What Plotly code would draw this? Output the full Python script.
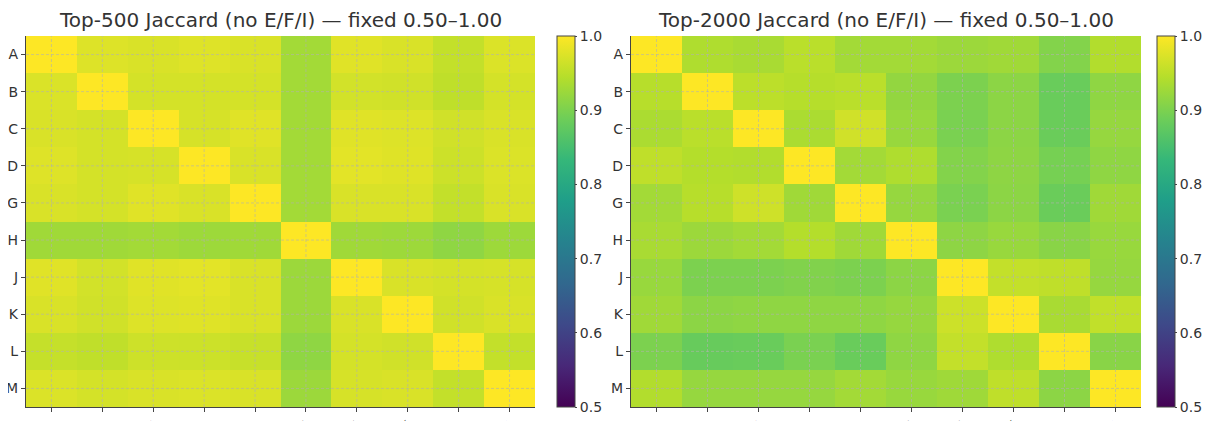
import plotly.graph_objects as go

labels = ["A", "B", "C", "D", "G", "H", "J", "K", "L", "M"]

top500 = [
    [1.000, 0.975, 0.972, 0.976, 0.972, 0.930, 0.978, 0.972, 0.955, 0.974],
    [0.973, 1.000, 0.968, 0.968, 0.968, 0.930, 0.967, 0.965, 0.952, 0.968],
    [0.972, 0.968, 1.000, 0.970, 0.978, 0.930, 0.978, 0.975, 0.965, 0.972],
    [0.976, 0.968, 0.970, 1.000, 0.972, 0.930, 0.980, 0.977, 0.962, 0.974],
    [0.972, 0.968, 0.978, 0.972, 1.000, 0.930, 0.972, 0.972, 0.955, 0.972],
    [0.928, 0.928, 0.930, 0.926, 0.928, 1.000, 0.928, 0.926, 0.915, 0.926],
    [0.978, 0.967, 0.978, 0.980, 0.972, 0.925, 1.000, 0.972, 0.968, 0.970],
    [0.972, 0.965, 0.975, 0.977, 0.972, 0.925, 0.972, 1.000, 0.965, 0.972],
    [0.957, 0.953, 0.963, 0.962, 0.958, 0.915, 0.968, 0.965, 1.000, 0.955],
    [0.974, 0.968, 0.972, 0.974, 0.972, 0.925, 0.970, 0.972, 0.955, 1.000],
]

top2000 = [
    [1.000, 0.940, 0.935, 0.948, 0.930, 0.930, 0.925, 0.928, 0.905, 0.942],
    [0.946, 1.000, 0.950, 0.945, 0.948, 0.918, 0.900, 0.912, 0.884, 0.915],
    [0.937, 0.948, 1.000, 0.937, 0.965, 0.922, 0.898, 0.912, 0.885, 0.920],
    [0.952, 0.944, 0.942, 1.000, 0.930, 0.940, 0.905, 0.914, 0.895, 0.915],
    [0.930, 0.946, 0.964, 0.928, 1.000, 0.920, 0.898, 0.912, 0.885, 0.928],
    [0.935, 0.925, 0.930, 0.944, 0.928, 1.000, 0.914, 0.922, 0.910, 0.922],
    [0.922, 0.900, 0.900, 0.904, 0.900, 0.912, 1.000, 0.955, 0.952, 0.920],
    [0.928, 0.912, 0.915, 0.915, 0.915, 0.920, 0.962, 1.000, 0.935, 0.954],
    [0.900, 0.882, 0.884, 0.898, 0.884, 0.915, 0.955, 0.940, 1.000, 0.910],
    [0.942, 0.920, 0.920, 0.920, 0.930, 0.922, 0.927, 0.952, 0.912, 1.000],
]

titles = ["Top-500 Jaccard (no E/F/I) \u2014 fixed 0.50\u20131.00",
          "Top-2000 Jaccard (no E/F/I) \u2014 fixed 0.50\u20131.00"]
cbar_ticks = [0.5, 0.6, 0.7, 0.8, 0.9, 1.0]
cbar_text = ["0.5", "0.6", "0.7", "0.8", "0.9", "1.0"]

# page body has an 8px margin: the figure starts at (8, 8) in the window
OFF = 8
W, H = 1212 - OFF, 421 - OFF
FONT = "DejaVu Sans"
TXT = "#333333"
AX = "#444444"


def fx(px):
    return (px - OFF) / W


def fy(py):
    return (H - (py - OFF)) / H


xdoms = [[fx(26), fx(535)], [fx(631), fx(1141)]]
ydom = [fy(407), fy(36)]
cbar_x = [fx(557), fx(1157)]

fig = go.Figure()
for i, z in enumerate([top500, top2000]):
    sfx = "" if i == 0 else str(i + 1)
    fig.add_trace(go.Heatmap(
        z=z, x=labels, y=labels,
        xaxis="x" + sfx, yaxis="y" + sfx,
        colorscale="Viridis", zmin=0.5, zmax=1.0,
        colorbar=dict(
            x=cbar_x[i], xanchor="left", xref="paper",
            y=ydom[0], yanchor="bottom", len=ydom[1] - ydom[0], lenmode="fraction",
            thickness=18, thicknessmode="pixels",
            outlinewidth=1, outlinecolor=AX,
            tickvals=cbar_ticks, ticktext=cbar_text,
            ticks="outside", ticklen=2, tickcolor=AX,
            ticklabeloverflow="allow",
            tickfont=dict(family=FONT, size=14, color=TXT),
            xpad=0, ypad=0,
        ),
        hoverinfo="skip",
    ))

layout = dict(
    width=W, height=H,
    margin=dict(l=0, r=0, t=0, b=0, autoexpand=False),
    paper_bgcolor="white", plot_bgcolor="white",
    showlegend=False,
    font=dict(family=FONT, size=14, color=TXT),
)
for i in range(2):
    sfx = "" if i == 0 else str(i + 1)
    layout["xaxis" + sfx] = dict(
        domain=xdoms[i], anchor="y" + sfx, type="category",
        showgrid=False, zeroline=False, automargin=False,
        showline=True, linecolor=AX, linewidth=1.3,
        ticks="outside", ticklen=4, tickcolor=AX,
        tickangle=-45, tickfont=dict(family=FONT, size=14, color=TXT),
        range=[-0.5, len(labels) - 0.5], fixedrange=True,
    )
    layout["yaxis" + sfx] = dict(
        domain=ydom, anchor="x" + sfx, type="category",
        showgrid=False, zeroline=False, automargin=False,
        showline=True, linecolor=AX, linewidth=1.3,
        ticks="outside", ticklen=4, tickcolor=AX,
        tickfont=dict(family=FONT, size=14, color=TXT),
        range=[len(labels) - 0.5, -0.5], fixedrange=True,
    )
fig.update_layout(**layout)

shapes = []
for i in range(2):
    sfx = "" if i == 0 else str(i + 1)
    for k, lab in enumerate(labels):
        shapes.append(dict(type="line", xref="x" + sfx, yref="y" + sfx + " domain",
                           x0=k, x1=k, y0=0, y1=1, layer="above",
                           line=dict(color="rgba(176,176,176,0.75)", width=0.8, dash="3px,2px")))
        shapes.append(dict(type="line", xref="x" + sfx + " domain", yref="y" + sfx,
                           x0=0, x1=1, y0=k, y1=k, layer="above",
                           line=dict(color="rgba(176,176,176,0.75)", width=0.8, dash="3px,2px")))
fig.update_layout(shapes=shapes)

annotations = []
for i in range(2):
    annotations.append(dict(
        text=titles[i], xref="paper", yref="paper",
        x=(xdoms[i][0] + xdoms[i][1]) / 2, y=fy(20),
        xanchor="center", yanchor="middle", showarrow=False,
        font=dict(family=FONT, size=20, color=TXT),
    ))
fig.update_layout(annotations=annotations)

fig.write_html("out.html")
